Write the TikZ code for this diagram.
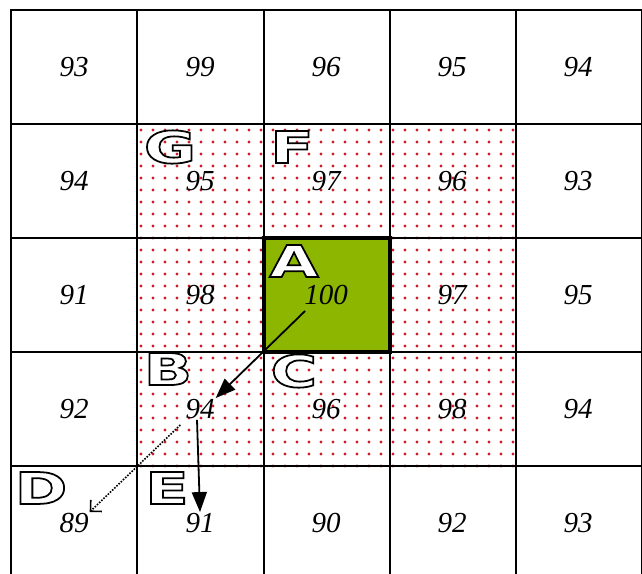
\documentclass[tikz,border=0pt]{standalone}
\usepackage{fontspec}
\setmainfont{Liberation Serif}
\newfontfamily\letterfont[FakeStretch=1.45,FakeBold=4]{DejaVu Sans Bold}
\usetikzlibrary{arrows.meta}
\definecolor{cellgreen}{RGB}{141,182,0}
\definecolor{dotred}{RGB}{200,30,40}
\newcommand{\hollow}[1]{\color{white}\special{pdf:literal direct 0 G}#1}

\begin{document}
\begin{tikzpicture}[x=1pt,y=-1pt,
    val/.style={font=\fontsize{29}{29}\selectfont\itshape, inner sep=1pt},
    lettr/.style={font=\letterfont\fontsize{44}{44}\selectfont, inner sep=0pt},
    grid line/.style={line width=2pt},
    move/.style={-{Triangle[length=20pt,width=15pt]}, line width=1.8pt}]
    \useasboundingbox (0,0) rectangle (642,573);
    \begin{scope}
        \clip (0,0) rectangle (642,573);
        % dotted neighbourhood
        \foreach \i in {0,...,31}
            \foreach \j in {0,...,28}
                \fill[dotred] ({141+12*\i},{130+12*\j}) circle (1.6);
        \fill[cellgreen] (264,238) rectangle (390,352);
        % grid
        \foreach \x in {11,137,264,390,516,642}
            \draw[grid line] (\x,10) -- (\x,580);
        \foreach \y in {10,124,238,352,466,580}
            \draw[grid line] (10,\y) -- (643,\y);
        \draw[line width=4pt] (264,238) rectangle (390,352);
    \end{scope}
    % values
    \foreach \v [count=\k from 0] in {93,99,96,95,94, 94,95,97,96,93, 91,98,100,97,95, 92,94,96,98,94, 89,91,90,92,93} {
        \pgfmathtruncatemacro{\r}{int(\k/5)}
        \pgfmathtruncatemacro{\c}{mod(\k,5)}
        \node[val] (c\r\c) at ({74+126*\c},{67+114*\r}) {\v};
    }
    % letters
    \node[lettr] (G) at (170,147) {\hollow{G}};
    \node[lettr] (F) at (292,147) {\hollow{F}};
    \node[lettr] (A) at (294,261) {\hollow{A}};
    \node[lettr] (B) at (168,369) {\hollow{B}};
    \node[lettr] (C) at (294,371) {\hollow{C}};
    \node[lettr] (D) at (41,488) {\hollow{D}};
    \node[lettr] (E) at (167,488) {\hollow{E}};
    % moves
    \draw[move] ([shift={(2,5)}]c22.south west) -- (c31.north east);
    \draw[move] ([xshift=-3pt]c31.south) -- (c41.north);
    \draw[line width=1.6pt, dash pattern=on 1.6pt off 1.4pt, -{Straight Barb[length=8pt,width=16pt]}] ([shift={(-4,5)}]c31.south west) -- (c40.north east);
\end{tikzpicture}
\end{document}
